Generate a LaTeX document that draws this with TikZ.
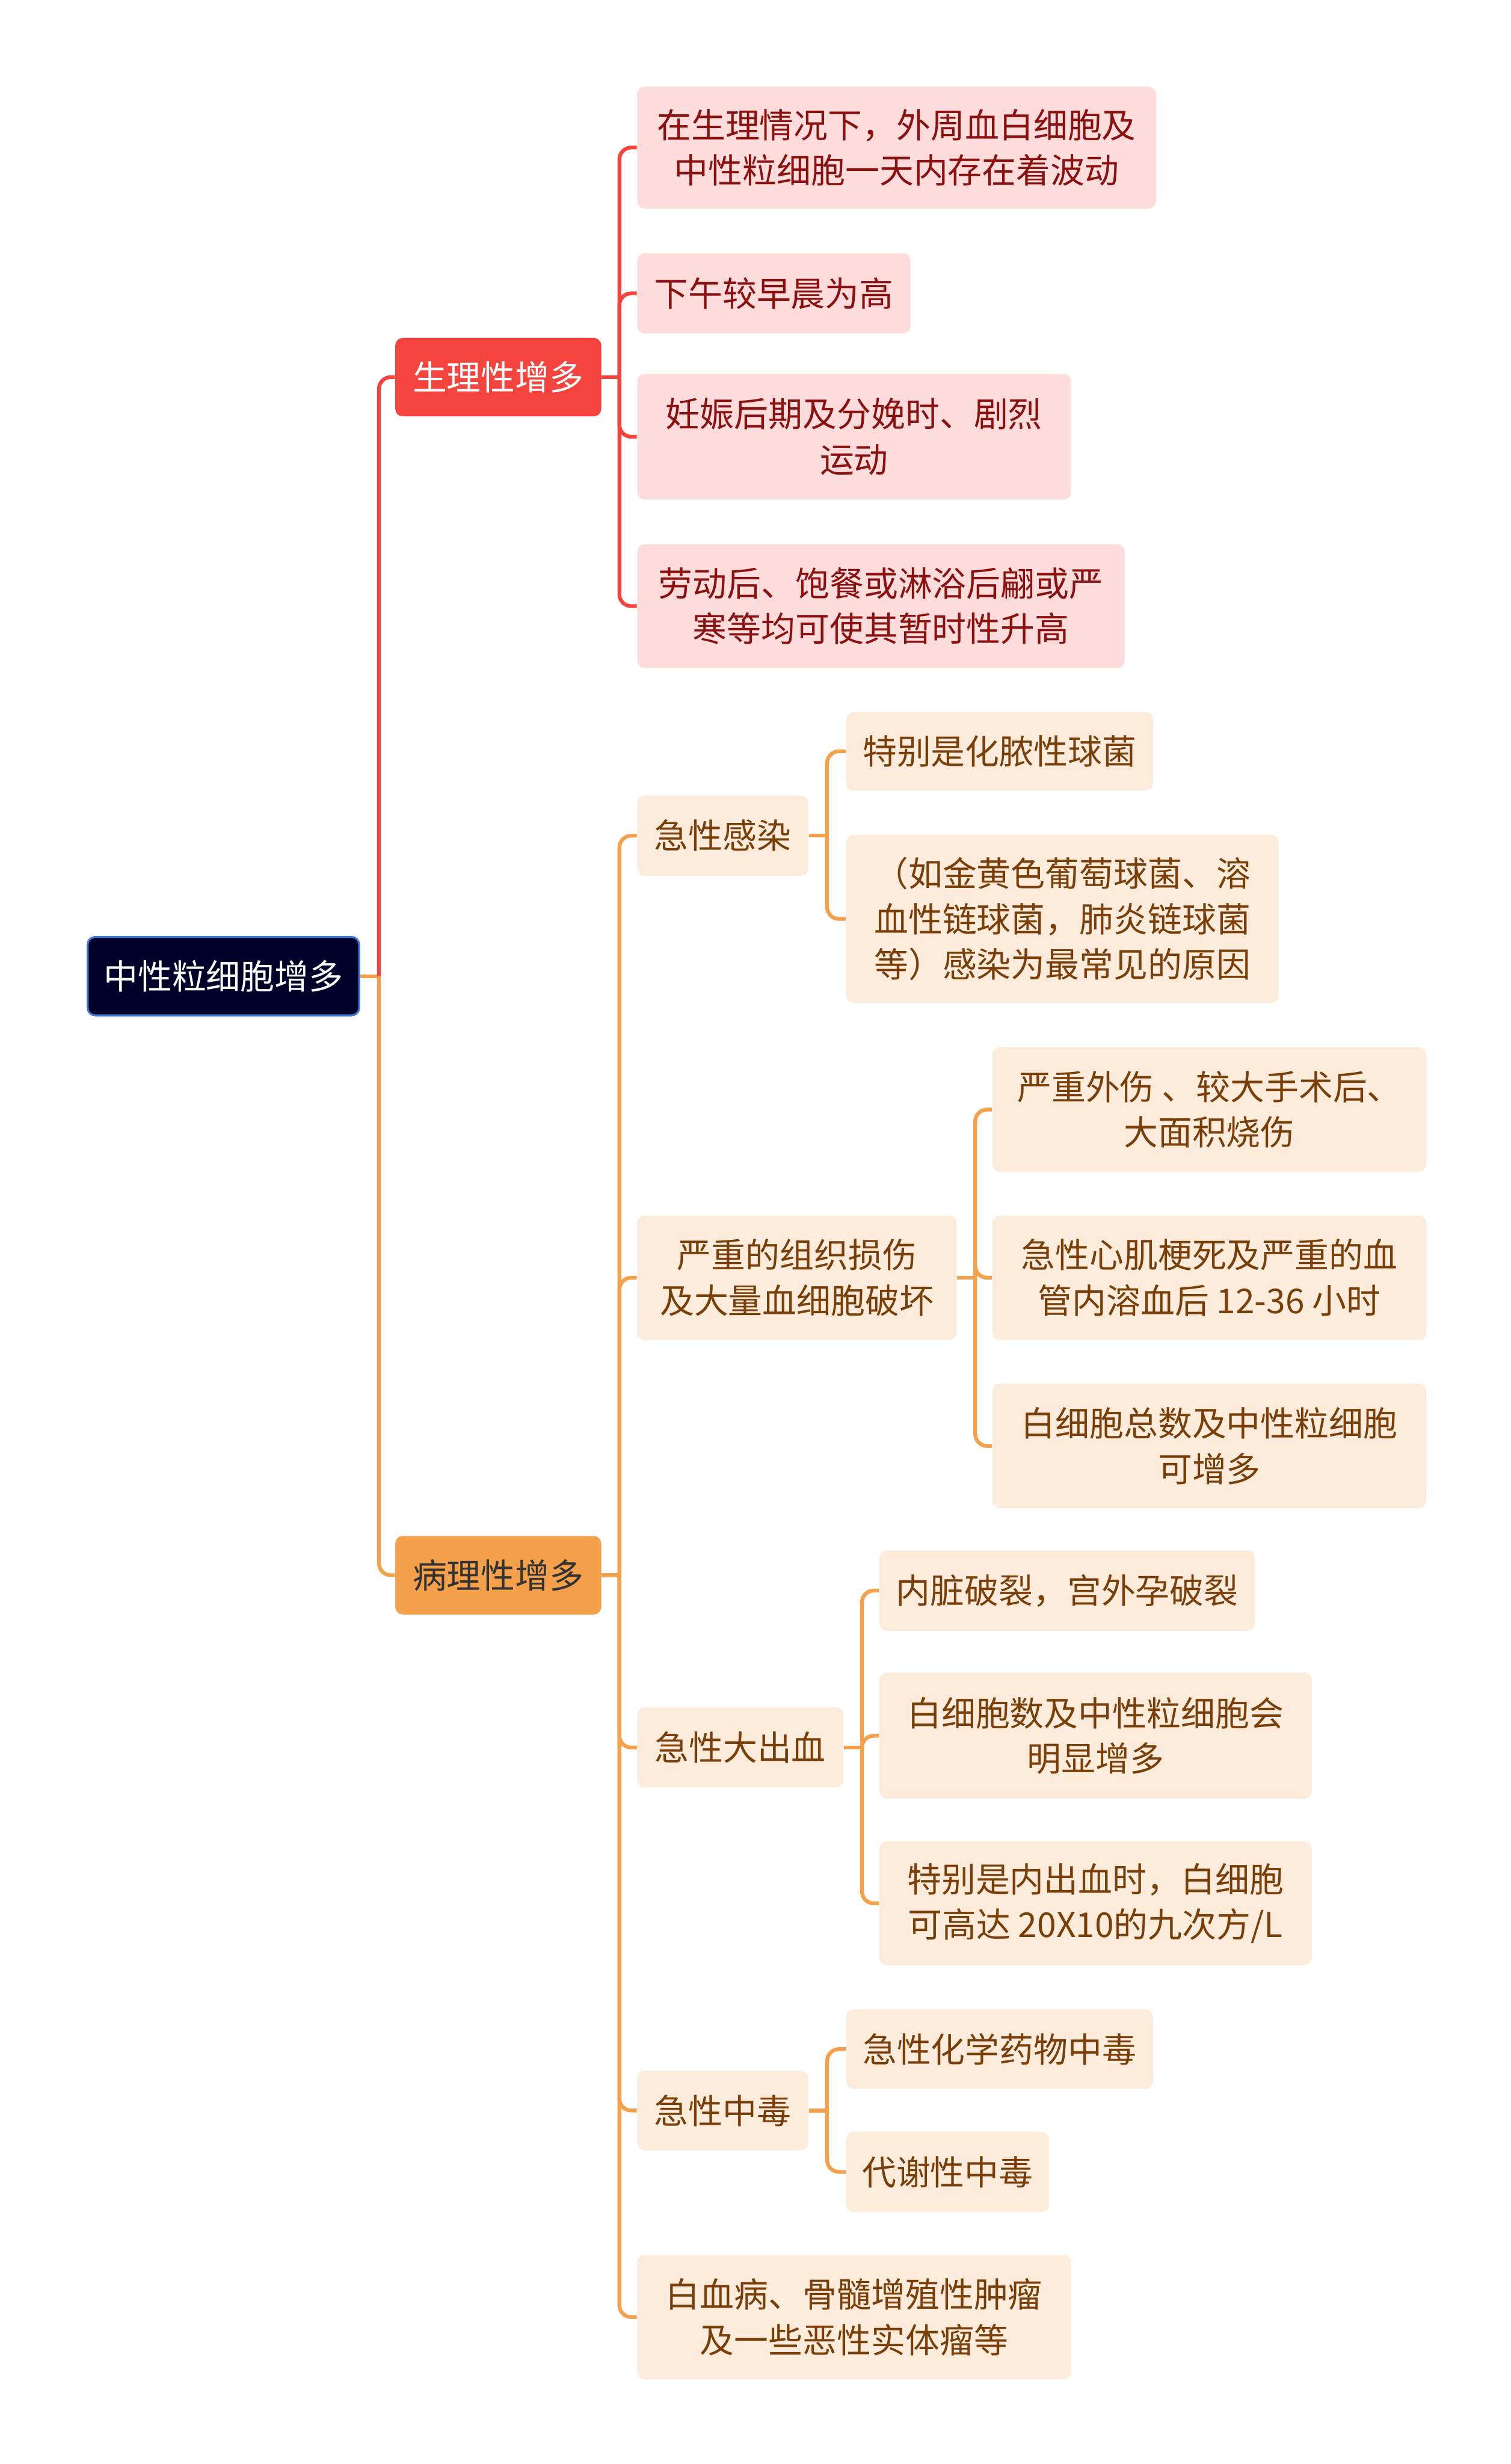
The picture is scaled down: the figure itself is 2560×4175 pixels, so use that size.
\documentclass[tikz,border=0pt]{standalone}
\usepackage{fontspec}
\setmainfont{Noto Sans CJK SC}
\usepackage{tikz}
\usepackage{xcolor}

\definecolor{rootfill}{HTML}{000029}
\definecolor{rootdraw}{HTML}{3C78D8}
\definecolor{redmain}{HTML}{F5443D}
\definecolor{pinkfill}{HTML}{FDDCDB}
\definecolor{pinktext}{HTML}{8B1010}
\definecolor{orgmain}{HTML}{F5A04B}
\definecolor{creamfill}{HTML}{FDECDC}
\definecolor{creamtext}{HTML}{7A3E08}

\begin{document}
\begin{tikzpicture}[x=0.25pt,y=-0.25pt,
    cell/.style 2 args={rounded corners=3.2pt,anchor=west,align=center,inner sep=0pt,
      minimum width=#1*0.25pt,minimum height=#2*0.25pt,
      font=\fontsize{14.5pt}{19.25pt}\selectfont},
    rootbox/.style={fill=rootfill,draw=rootdraw,line width=0.8pt,text=white},
    redbox/.style={fill=redmain,text=white},
    orgbox/.style={fill=orgmain,text=black!80},
    pinkbox/.style={fill=pinkfill,text=pinktext},
    creambox/.style={fill=creamfill,text=creamtext},
    redline/.style={draw=redmain,line width=1.6pt},
    orgline/.style={draw=orgmain,line width=1.6pt}]
  \useasboundingbox (0,0) rectangle (2560,4175);

  % main branches
  \node[rootbox,cell={460}{133}] (root) at (147,1654) {中性粒细胞增多};
  \node[redbox,cell={349}{133}] (phys) at (669,639) {生理性增多};
  \node[orgbox,cell={349}{133}] (path) at (669,2669) {病理性增多};

  \node[pinkbox,cell={879}{207}] (p1) at (1079,250) {在生理情况下，外周血白细胞及\\中性粒细胞一天内存在着波动};
  \node[pinkbox,cell={463}{136}] (p2) at (1079,497) {下午较早晨为高};
  \node[pinkbox,cell={735}{213}] (p3) at (1079,740) {妊娠后期及分娩时、剧烈\\运动};
  \node[pinkbox,cell={826}{210}] (p4) at (1079,1027) {劳动后、饱餐或淋浴后翩或严\\寒等均可使其暂时性升高};

  \node[creambox,cell={290}{136}] (inf) at (1079,1416) {急性感染};
  \node[creambox,cell={520}{133}] (inf1) at (1433,1273) {特别是化脓性球菌};
  \node[creambox,cell={733}{285}] (inf2) at (1433,1557) {（如金黄色葡萄球菌、溶\\血性链球菌，肺炎链球菌\\等）感染为最常见的原因};

  \node[creambox,cell={541}{211}] (tis) at (1079,2165) {严重的组织损伤\\及大量血细胞破坏};
  \node[creambox,cell={735}{211}] (tis1) at (1681,1880) {严重外伤 、较大手术后、\\大面积烧伤};
  \node[creambox,cell={735}{211}] (tis2) at (1681,2165) {急性心肌梗死及严重的血\\管内溶血后 12-36 小时};
  \node[creambox,cell={735}{211}] (tis3) at (1681,2450) {白细胞总数及中性粒细胞\\可增多};

  \node[creambox,cell={349}{136}] (hem) at (1079,2961) {急性大出血};
  \node[creambox,cell={637}{136}] (hem1) at (1489,2695) {内脏破裂，宫外孕破裂};
  \node[creambox,cell={733}{214}] (hem2) at (1489,2941) {白细胞数及中性粒细胞会\\明显增多};
  \node[creambox,cell={733}{210}] (hem3) at (1489,3225) {特别是内出血时，白细胞\\可高达 20X10的九次方/L};

  \node[creambox,cell={290}{135}] (tox) at (1079,3576) {急性中毒};
  \node[creambox,cell={520}{135}] (tox1) at (1433,3472) {急性化学药物中毒};
  \node[creambox,cell={344}{136}] (tox2) at (1433,3680) {代谢性中毒};

  \node[creambox,cell={735}{211}] (leu) at (1079,3926) {白血病、骨髓增殖性肿瘤\\及一些恶性实体瘤等};

  % connectors
  \draw[orgline] (root.east) -- ++(32,0) coordinate (rootj);
  \draw[redline,rounded corners=5pt] (rootj) |- (phys.west);
  \draw[orgline,rounded corners=5pt] (rootj) |- (path.west);

  \draw[redline] (phys.east) -- ++(30,0) coordinate (physj);
  \foreach \c in {p1,p2,p3,p4}
    \draw[redline,rounded corners=5pt] (physj) |- (\c.west);

  \draw[orgline] (path.east) -- ++(30,0) coordinate (pathj);
  \foreach \c in {inf,tis,hem,tox,leu}
    \draw[orgline,rounded corners=5pt] (pathj) |- (\c.west);

  \foreach \p/\cs in {inf/{inf1,inf2},tis/{tis1,tis2,tis3},hem/{hem1,hem2,hem3},tox/{tox1,tox2}}{
    \draw[orgline] (\p.east) -- ++(31,0) coordinate (subj);
    \foreach \c in \cs
      \draw[orgline,rounded corners=5pt] (subj) |- (\c.west);
  }
\end{tikzpicture}
\end{document}
